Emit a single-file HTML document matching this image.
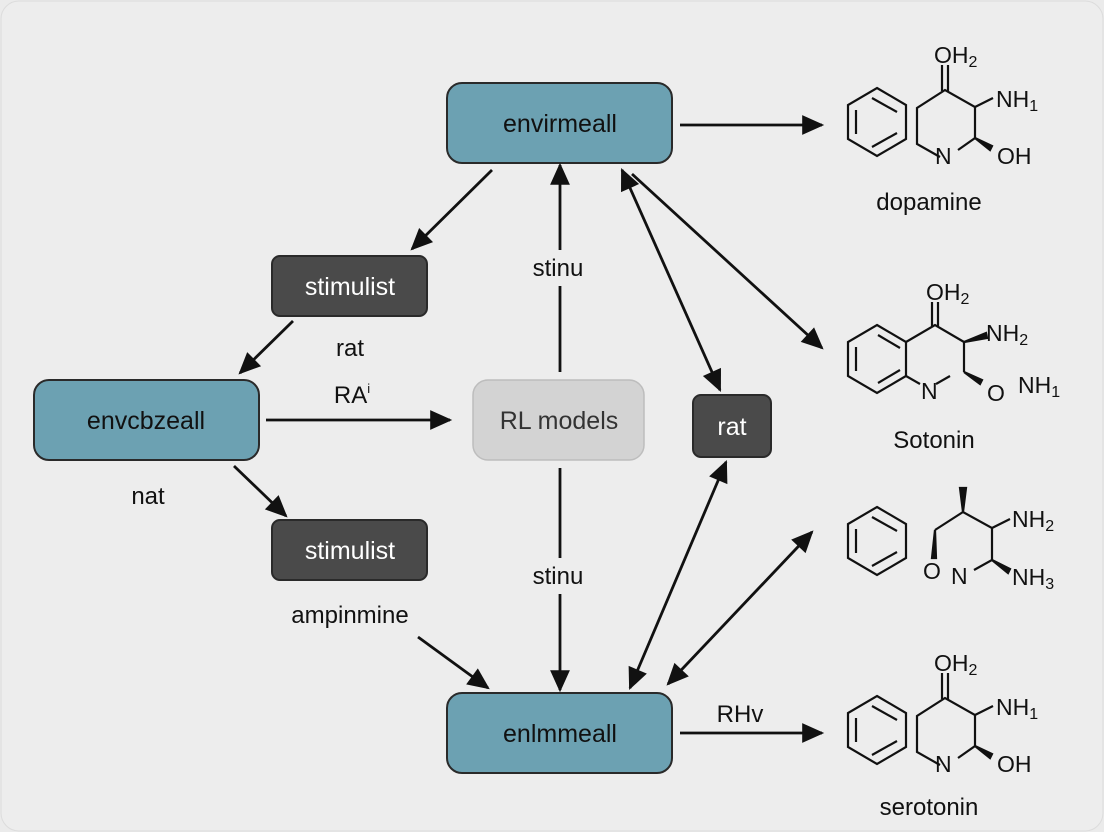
<!DOCTYPE html>
<html><head><meta charset="utf-8"><style>
html,body{margin:0;padding:0;background:#fff;}
svg{display:block;}
text{font-family:"Liberation Sans","DejaVu Sans",sans-serif;}
</style></head><body>
<svg width="1104" height="832" viewBox="0 0 1104 832" xmlns="http://www.w3.org/2000/svg">
<defs>
<marker id="b" viewBox="0 0 10 10" refX="9" refY="5" markerWidth="24" markerHeight="22" markerUnits="userSpaceOnUse" orient="auto-start-reverse"><path d="M0,0.5 L10,5 L0,9.5 z" fill="#111"/></marker>
</defs>
<rect x="0" y="0" width="1104" height="832" fill="#ebebeb"/>
<rect x="1" y="1" width="1102" height="830" rx="18" fill="#ededed" stroke="#dcdcdc"/>

<!-- boxes -->
<g stroke="#2a2a2a" stroke-width="2">
<rect x="447" y="83" width="225" height="80" rx="15" fill="#6ca1b2"/>
<rect x="272" y="256" width="155" height="60" rx="8" fill="#4a4a4a"/>
<rect x="34" y="380" width="225" height="80" rx="15" fill="#6ca1b2"/>
<rect x="272" y="520" width="155" height="60" rx="8" fill="#4a4a4a"/>
<rect x="693" y="395" width="78" height="62" rx="8" fill="#4a4a4a"/>
<rect x="447" y="693" width="225" height="80" rx="15" fill="#6ca1b2"/>
</g>
<rect x="473" y="380" width="171" height="80" rx="15" fill="#d3d3d3" stroke="#bdbdbd" stroke-width="1.5"/>

<g font-size="25" text-anchor="middle" fill="#111">
<text x="560" y="132">envirmeall</text>
<text x="146" y="429">envcbzeall</text>
<text x="560" y="742">enlmmeall</text>
<text x="559" y="429" fill="#333">RL models</text>
</g>
<g font-size="25" text-anchor="middle" fill="#fff">
<text x="350" y="295">stimulist</text>
<text x="350" y="559">stimulist</text>
<text x="732" y="435">rat</text>
</g>

<!-- arrows -->
<g stroke="#111" stroke-width="2.8" fill="none" marker-end="url(#b)">
<line x1="680" y1="125" x2="822" y2="125"/>
<line x1="492" y1="170" x2="412" y2="249"/>
<line x1="293" y1="321" x2="240" y2="373"/>
<line x1="266" y1="420" x2="450" y2="420"/>
<line x1="234" y1="466" x2="286" y2="516"/>
<line x1="418" y1="637" x2="488" y2="688"/>
<line x1="560" y1="372" x2="560" y2="165"/>
<line x1="560" y1="468" x2="560" y2="690"/>
<line x1="622" y1="170" x2="720" y2="390" marker-start="url(#b)"/>
<line x1="632" y1="174" x2="822" y2="348"/>
<line x1="630" y1="688" x2="726" y2="462" marker-start="url(#b)"/>
<line x1="668" y1="684" x2="812" y2="532" marker-start="url(#b)"/>
<line x1="680" y1="733" x2="822" y2="733"/>
</g>
<rect x="525" y="250" width="66" height="36" fill="#ededed"/>
<rect x="525" y="558" width="66" height="36" fill="#ededed"/>

<g font-size="24" text-anchor="middle" fill="#111">
<text x="558" y="276">stinu</text>
<text x="350" y="356">rat</text>
<text x="352" y="403">RA<tspan font-size="13" dy="-10">i</tspan></text>
<text x="148" y="504">nat</text>
<text x="350" y="623">ampinmine</text>
<text x="558" y="584">stinu</text>
<text x="740" y="722">RHv</text>
<text x="929" y="210">dopamine</text>
<text x="934" y="448">Sotonin</text>
<text x="929" y="815">serotonin</text>
</g>

<!-- dopamine -->
<g stroke="#111" stroke-width="2.2" fill="none">
<polygon points="877,88 906,105 906,139 877,156 848,139 848,105"/>
<line x1="872" y1="98" x2="897" y2="112" /><line x1="897" y1="133" x2="872" y2="147"/><line x1="856" y1="110" x2="856" y2="134"/>
<polyline points="940,157 917,144 917,108 945,90 975,107 975,138 958,150"/>
<line x1="942" y1="91" x2="942" y2="65"/><line x1="948" y1="91" x2="948" y2="65"/>
<line x1="975" y1="107" x2="993" y2="98"/>
<path d="M975,138 L992,146 L990,150 z" fill="#111"/>
</g>
<g font-size="23" fill="#111">
<text x="934" y="63">OH<tspan font-size="16" dy="4">2</tspan></text>
<text x="996" y="107">NH<tspan font-size="16" dy="4">1</tspan></text>
<text x="935" y="164">N</text>
<text x="997" y="164">OH</text>
</g>
<!-- serotonin -->
<g transform="translate(0,608)">
<g stroke="#111" stroke-width="2.2" fill="none">
<polygon points="877,88 906,105 906,139 877,156 848,139 848,105"/>
<line x1="872" y1="98" x2="897" y2="112" /><line x1="897" y1="133" x2="872" y2="147"/><line x1="856" y1="110" x2="856" y2="134"/>
<polyline points="940,157 917,144 917,108 945,90 975,107 975,138 958,150"/>
<line x1="942" y1="91" x2="942" y2="65"/><line x1="948" y1="91" x2="948" y2="65"/>
<line x1="975" y1="107" x2="993" y2="98"/>
<path d="M975,138 L992,146 L990,150 z" fill="#111"/>
</g>
<g font-size="23" fill="#111">
<text x="934" y="63">OH<tspan font-size="16" dy="4">2</tspan></text>
<text x="996" y="107">NH<tspan font-size="16" dy="4">1</tspan></text>
<text x="935" y="164">N</text>
<text x="997" y="164">OH</text>
</g>
</g>

<!-- sotonin -->
<g stroke="#111" stroke-width="2.2" fill="none">
<polygon points="877,325 906,342 906,376 877,393 848,376 848,342"/>
<line x1="878" y1="335" x2="900" y2="348"/><line x1="900" y1="370" x2="878" y2="383"/><line x1="856" y1="347" x2="856" y2="371"/>
<polyline points="906,342 935,325 964,342"/>
<polyline points="906,376 920,384"/>
<polyline points="936,384 950,376"/>
<line x1="932" y1="326" x2="932" y2="302"/><line x1="938" y1="326" x2="938" y2="302"/>
<line x1="964" y1="342" x2="964" y2="372"/>
<path d="M964,342 L986,333 L987,338 z" fill="#111"/>
<path d="M964,372 L982,380 L980,384 z" fill="#111"/>
</g>
<g font-size="23" fill="#111">
<text x="926" y="300">OH<tspan font-size="16" dy="4">2</tspan></text>
<text x="986" y="341">NH<tspan font-size="16" dy="4">2</tspan></text>
<text x="921" y="399">N</text>
<text x="987" y="401">O</text>
<text x="1018" y="393">NH<tspan font-size="16" dy="4">1</tspan></text>
</g>

<!-- third structure -->
<g stroke="#111" stroke-width="2.2" fill="none">
<polygon points="877,507 906,524 906,558 877,575 848,558 848,524"/>
<line x1="872" y1="517" x2="897" y2="531"/><line x1="897" y1="552" x2="872" y2="566"/><line x1="856" y1="529" x2="856" y2="553"/>
<polyline points="935,530 963,512 992,528 992,560 974,570"/>
<line x1="992" y1="528" x2="1010" y2="519"/>
<path d="M963,512 L960,488 L966,488 z" fill="#111"/>
<path d="M935,530 L932,558 L936,558 z" fill="#111"/>
<path d="M992,560 L1010,569 L1008,573 z" fill="#111"/>
</g>
<g font-size="23" fill="#111">
<text x="1012" y="527">NH<tspan font-size="16" dy="4">2</tspan></text>
<text x="923" y="579">O</text>
<text x="951" y="584">N</text>
<text x="1012" y="585">NH<tspan font-size="16" dy="4">3</tspan></text>
</g>
</svg>
</body></html>
